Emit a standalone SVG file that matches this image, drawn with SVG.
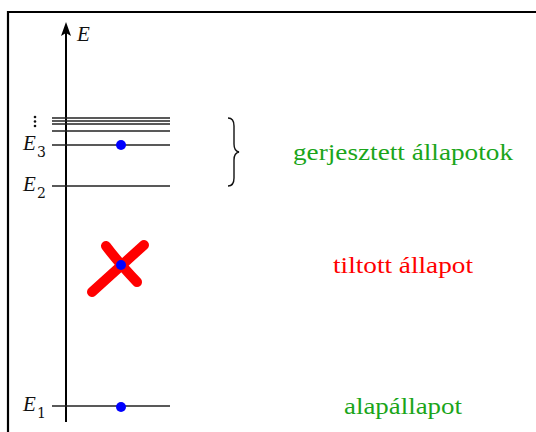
<svg xmlns="http://www.w3.org/2000/svg" width="536" height="432" viewBox="0 0 536 432">
<defs>
<style>
.lvl{stroke:#222;stroke-width:1.3;fill:none}
.dot{fill:#0000ff}
.lab{font-family:"Liberation Serif",serif;font-style:italic;font-size:21px;fill:#111}
.sub{font-family:"DejaVu Serif","Liberation Serif",serif;font-size:14px;fill:#111}
.txt{font-family:"Liberation Serif",serif;font-size:23px}
</style>
</defs>
<rect width="536" height="432" fill="#fff"/>
<g id="frame">
<path d="M8,432 V12 H536" stroke="#000" stroke-width="2.2" fill="none"/>
</g>
<g id="axis">
<line x1="66" y1="422" x2="66" y2="28" stroke="#000" stroke-width="2"/>
<path d="M61,36 L66,22 L71,36 L66,33 Z" fill="#000"/>
<text class="lab" x="77" y="41">E</text>
</g>
<g id="levels">
<line class="lvl" x1="52" y1="118" x2="170" y2="118"/>
<line class="lvl" x1="52" y1="121" x2="170" y2="121"/>
<line class="lvl" x1="52" y1="124" x2="170" y2="124"/>
<line class="lvl" x1="52" y1="131" x2="170" y2="131"/>
<line class="lvl" x1="52" y1="145" x2="170" y2="145"/>
<line class="lvl" x1="52" y1="186" x2="170" y2="186"/>
<line class="lvl" x1="52" y1="406" x2="170" y2="406"/>
<g fill="#111"><circle cx="35" cy="117" r="1.3"/><circle cx="35" cy="121.5" r="1.3"/><circle cx="35" cy="126" r="1.3"/></g>
<text class="lab" x="23" y="150">E</text><text class="sub" x="37" y="157">3</text>
<text class="lab" x="23" y="191">E</text><text class="sub" x="37" y="198">2</text>
<text class="lab" x="23" y="411">E</text><text class="sub" x="37" y="418">1</text>
</g>
<g id="forbidden">
<g stroke="#ff0000" stroke-width="10" stroke-linecap="round" fill="none">
<line x1="92" y1="292" x2="144" y2="245"/>
<path d="M106,246 Q118,262 137,282"/>
</g>
</g>
<g id="electrons">
<circle class="dot" cx="121" cy="145" r="5"/>
<circle class="dot" cx="121" cy="265" r="5"/>
<circle class="dot" cx="121" cy="407" r="5"/>
</g>
<g id="brace">
<path d="M228,118 Q234,118 234,126 L234,144 Q234,151 239,152 Q234,153 234,160 L234,178 Q234,186 228,186" stroke="#111" stroke-width="1.4" fill="none"/>
</g>
<g id="labels">
<text class="txt" x="293" y="160" fill="#1aa51a" textLength="220" lengthAdjust="spacingAndGlyphs">gerjesztett állapotok</text>
<text class="txt" x="333" y="273" fill="#ff0000" textLength="140" lengthAdjust="spacingAndGlyphs">tiltott állapot</text>
<text class="txt" x="344" y="414" fill="#1aa51a" textLength="118" lengthAdjust="spacingAndGlyphs">alapállapot</text>
</g>
</svg>
